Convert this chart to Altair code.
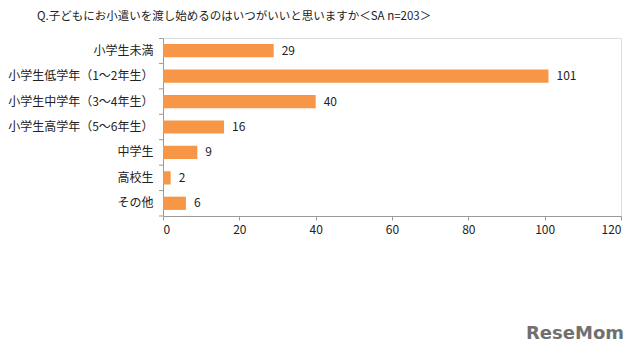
import altair as alt
import pandas as pd

categories = ["小学生未満", "小学生低学年（1～2年生）", "小学生中学年（3～4年生）",
              "小学生高学年（5～6年生）", "中学生", "高校生", "その他"]
values = [29, 101, 40, 16, 9, 2, 6]
x_ticks = [0, 20, 40, 60, 80, 100, 120]
title_text = "Q.子どもにお小遣いを渡し始めるのはいつがいいと思いますか＜SA n=203＞"
logo_text = "ReseMom"

FONT = "Noto Sans CJK JP"
PI = 0.48
W, H = 458, 178
df = pd.DataFrame({"cat": categories, "val": values})

y_enc = alt.Y("cat:N", sort=categories, title=None,
              scale=alt.Scale(paddingInner=PI, paddingOuter=PI / 2),
              axis=alt.Axis(ticks=False, domainColor="#9a9a9a", labelFont=FONT,
                            labelFontSize=12, labelColor="#222222", labelPadding=10,
                            labelLimit=300))
x_enc = alt.X("val:Q", title=None,
              scale=alt.Scale(domain=[0, 120], nice=False),
              axis=alt.Axis(values=x_ticks, grid=False, domainColor="#9a9a9a",
                            tickColor="#9a9a9a", tickSize=4, labelFont=FONT,
                            labelFontSize=12, labelColor="#222222", labelPadding=4))

bars = alt.Chart(df).mark_bar(color="#F79646").encode(x=x_enc, y=y_enc)
labels = alt.Chart(df).mark_text(align="left", dx=8, font=FONT, fontSize=12,
                                 color="#222222").encode(
    x="val:Q", y=alt.Y("cat:N", sort=categories), text="val:Q")

# category boundary ticks on the y axis (half a gap below each band)
step = H / len(categories)
half_gap = PI * step / 2
yticks = alt.Chart(df).mark_rule(color="#9a9a9a", strokeWidth=1, yOffset=half_gap).encode(
    x=alt.value(-4), x2=alt.value(0),
    y=alt.Y("cat:N", sort=categories, bandPosition=1))
ytop = alt.Chart(df.head(1)).mark_rule(color="#9a9a9a", strokeWidth=1).encode(
    x=alt.value(-4), x2=alt.value(0), y=alt.value(0.5))

title = alt.Chart(pd.DataFrame({"t": [title_text]})).mark_text(
    align="left", baseline="middle", font=FONT, fontSize=11.5, color="#222222", clip=False
).encode(x=alt.value(-126), y=alt.value(-21), text="t:N")

logo = alt.Chart(pd.DataFrame({"t": [logo_text]})).mark_text(
    align="center", baseline="middle", font="DejaVu Sans", fontSize=18,
    fontWeight="bold", color="#707070", clip=False
).encode(x=alt.value(412), y=alt.value(296), text="t:N")

chart = alt.layer(bars, labels, yticks, ytop, title, logo).properties(
    width=W, height=H,
    autosize=alt.AutoSizeParams(type="none"),
    padding={"left": 155, "top": 30, "right": 11, "bottom": 135},
).configure_view(stroke=None).configure(background="white")

chart.save("out.html", embed_options={"renderer": "svg", "actions": False})
